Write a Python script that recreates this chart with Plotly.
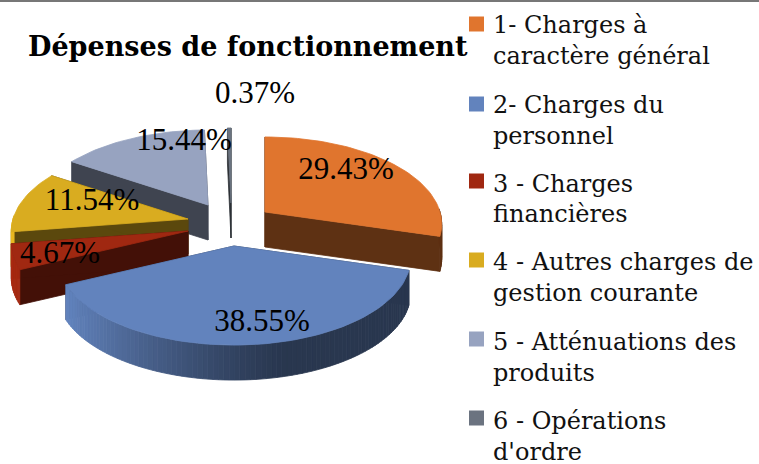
import math
import plotly.graph_objects as go

categories = ["1- Charges à<br>caractère général", "2- Charges du<br>personnel", "3 - Charges<br>financières",
              "4 - Autres charges de<br>gestion courante", "5 - Atténuations des<br>produits", "6 - Opérations<br>d'ordre"]
values = [29.43, 38.55, 4.67, 11.54, 15.44, 0.37]
title = "Dépenses de fonctionnement"

colors = ["#e0752e", "#6283bd", "#a02811", "#d9ac20", "#97a3c0", "#6b7380"]
apex = [(265, 212), (234, 246), (188, 231), (188, 219), (208, 205), (231, 203)]
label_pos = [(346, 171), (262, 323), (60, 255), (92, 202), (184, 142), (255, 95)]
legend_y = [24, 104, 181, 260, 339, 418]
legend_line_y = [(25, 56), (105, 136), (184, 214), (262, 293), (342, 373), (421, 452)]
draw_order = [4, 5, 3, 0, 2, 1]
R, RY, K, DEPTH = 175, 85.4, 0.138, 35
FONT = "Liberation Serif"
LEGEND_FONT = "DejaVu Serif"


def project(theta, center, dy=0):
    s, c = math.sin(theta), math.cos(theta)
    d = 1 + K * c
    return center[0] + R * s / d, center[1] - RY * c / d + dy


def shade(col, f):
    r, g, b = int(col[1:3], 16), int(col[3:5], 16), int(col[5:7], 16)
    return "#%02x%02x%02x" % (min(255, int(r * f)), min(255, int(g * f)), min(255, int(b * f)))


def poly(pts, col):
    return go.Scatter(x=[p[0] for p in pts] + [pts[0][0]], y=[p[1] for p in pts] + [pts[0][1]],
                      mode="lines", fill="toself", fillcolor=col, line=dict(color=col, width=0.8),
                      hoverinfo="skip", showlegend=False)


fig = go.Figure()
total = sum(values)
edges = [0]
for v in values:
    edges.append(edges[-1] + v / total * 2 * math.pi)

for i in draw_order:
    a0, a1, ctr, col = edges[i], edges[i + 1], apex[i], colors[i]
    low = (ctr[0], ctr[1] + DEPTH)
    for a in (a0, a1):
        fig.add_trace(poly([ctr, project(a, ctr), project(a, ctr, DEPTH), low], shade(col, 0.42)))
    n = max(2, int((a1 - a0) / math.radians(1.5)))
    for k in range(n):
        t0 = a0 + (a1 - a0) * k / n
        t1 = a0 + (a1 - a0) * (k + 1) / n
        if math.cos((t0 + t1) / 2) < 0.03:
            sm = math.sin((t0 + t1) / 2)
            f = 0.42 + 0.5 * max(0.0, 0.25 - sm) ** 1.2 if sm < 0.25 else 0.42
            fig.add_trace(poly([project(t0, ctr), project(t1, ctr), project(t1, ctr, DEPTH), project(t0, ctr, DEPTH)],
                               shade(col, f)))
    n = max(2, int((a1 - a0) / math.radians(2)))
    top = [ctr] + [project(a0 + (a1 - a0) * k / n, ctr) for k in range(n + 1)]
    fig.add_trace(poly(top, col))

fig.add_trace(go.Scatter(x=[p[0] for p in label_pos], y=[p[1] for p in label_pos],
                         text=["%.2f%%" % v for v in values], mode="text", textposition="middle center",
                         textfont=dict(family=FONT, size=31, color="#000000"), hoverinfo="skip", showlegend=False))

fig.add_trace(go.Scatter(x=[476.5] * 6, y=legend_y, mode="markers", hoverinfo="skip", showlegend=False,
                         marker=dict(symbol="square", size=15, color=colors)))

annotations = [dict(x=248, y=46, xref="x", yref="y", text="<b>" + title + "</b>", showarrow=False,
                    font=dict(family=LEGEND_FONT, size=27, color="#000000"))]
for name, ys in zip(categories, legend_line_y):
    for line, y in zip(name.split("<br>"), ys):
        annotations.append(dict(x=492, y=y, xref="x", yref="y", xanchor="left", text=line, showarrow=False,
                                font=dict(family=LEGEND_FONT, size=24, color="#111111"), borderpad=0))

fig.update_layout(
    width=759, height=464, margin=dict(l=0, r=0, t=0, b=0), paper_bgcolor="white", plot_bgcolor="white",
    showlegend=False,
    xaxis=dict(range=[0, 759], visible=False, fixedrange=True),
    yaxis=dict(range=[464, 0], visible=False, fixedrange=True),
    annotations=annotations,
    shapes=[dict(type="line", xref="paper", yref="paper", x0=0, x1=1, y0=0.998, y1=0.998,
                 line=dict(color="#777777", width=2))],
)
fig.write_html("out.html", post_script="document.body.style.margin='0';document.documentElement.style.overflow='hidden';",
               config={"displayModeBar": False})
